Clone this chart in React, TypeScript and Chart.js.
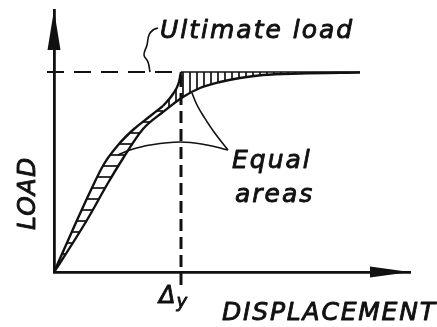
import React, { useEffect, useRef } from 'react';
import { Chart, registerables } from 'chart.js';

Chart.register(...registerables);

// ---- data (x: displacement units, y: load units) ----
const X_MAX = 356;
const Y_MAX = 262;
const ULTIMATE_LOAD = 200;
const DELTA_Y = 127;

const actualX = [0, 6, 33, 54, 68, 89, 109, 129, 146, 166, 186, 209, 246, 306];
const actualY = [0, 9, 52, 89, 112, 143, 160, 175, 184, 190, 194, 197, 198.5, 199.5];

const idealLowX = [0, 20, 36, 50, 65, 80, 95, 109];
const idealLowY = [0, 45, 80, 108, 128, 143, 155, 166];

const idealTopX = [109, 119, 125, 127];
const idealTopY = [166, 178, 190, 200];

const plateauX = [127, 306];
const plateauY = [200, 200];

const ultimateDashX = [-7, DELTA_Y];
const deltaLineY = [-13, ULTIMATE_LOAD];

const leaderUltX = [96, 94, 90, 93, 95, 99, 104];
const leaderUltY = [200, 210, 217, 227, 237, 242, 244];

const leaderEq1X = [174, 160, 150, 143, 138];
const leaderEq1Y = [122, 140, 155, 167, 179];

const leaderEq2X = [174, 153, 126, 96, 76, 64];
const leaderEq2Y = [122, 127, 130, 127, 122, 117];

const labelUltimate = 'Ultimate load';
const labelEqual1 = 'Equal';
const labelEqual2 = 'areas';
const labelX = 'DISPLACEMENT';
const labelY = 'LOAD';
const labelDelta = 'Δ';
const labelDeltaSub = 'y';

const pts = (xs: number[], ys: number[]) => xs.map((x, i) => ({ x, y: ys[i] }));

function makePattern(vertical: boolean, gap: number) {
  const c = document.createElement('canvas');
  c.width = gap;
  c.height = gap;
  const g = c.getContext('2d')!;
  g.strokeStyle = '#111';
  g.lineWidth = 1.7;
  g.beginPath();
  if (vertical) {
    g.moveTo(1, 0);
    g.lineTo(1, gap);
  } else {
    g.moveTo(0, 1);
    g.lineTo(gap, 1);
  }
  g.stroke();
  return g.createPattern(c, 'repeat')!;
}

const INK = '#111';

const decorPlugin = {
  id: 'decor',
  afterDraw(chart: any) {
    const { ctx, scales } = chart;
    const xs = scales.x;
    const ys = scales.y;
    const px = (v: number) => xs.getPixelForValue(v);
    const py = (v: number) => ys.getPixelForValue(v);
    ctx.save();
    ctx.fillStyle = INK;
    ctx.strokeStyle = INK;
    // arrow heads
    const ox = px(0);
    const oy = py(0);
    const top = py(Y_MAX);
    const right = px(X_MAX);
    ctx.beginPath();
    ctx.moveTo(ox, top);
    ctx.lineTo(ox - 6.5, top + 40);
    ctx.lineTo(ox + 6.5, top + 40);
    ctx.closePath();
    ctx.fill();
    ctx.beginPath();
    ctx.moveTo(right, oy);
    ctx.lineTo(right - 40, oy - 5.5);
    ctx.lineTo(right - 40, oy + 5.5);
    ctx.closePath();
    ctx.fill();

    // texts
    const font = (s: number) => `italic ${s}px "DejaVu Sans"`;
    ctx.lineWidth = 0.9;
    ctx.lineJoin = 'round';
    const txt = (t: string, x: number, y: number) => {
      ctx.fillText(t, x, y);
      ctx.strokeText(t, x, y);
    };
    ctx.textBaseline = 'alphabetic';
    ctx.textAlign = 'left';
    (ctx as any).letterSpacing = '2px';
    ctx.font = font(25);
    txt(labelUltimate, px(106), py(234));
    txt(labelEqual1, px(178), py(104));
    txt(labelEqual2, px(181), py(70));
    (ctx as any).letterSpacing = '1.8px';
    txt(labelX, px(168), py(-48));
    (ctx as any).letterSpacing = '1px';
    ctx.save();
    ctx.translate(px(-19), py(42));
    ctx.rotate(-Math.PI / 2);
    txt(labelY, 0, 0);
    ctx.restore();
    (ctx as any).letterSpacing = '0px';
    ctx.font = font(24);
    txt(labelDelta, px(105), py(-31));
    const dw = ctx.measureText(labelDelta).width;
    ctx.font = font(18);
    txt(labelDeltaSub, px(105) + dw + 1, py(-35));
    ctx.restore();
  },
};

export default function App() {
  const ref = useRef<HTMLCanvasElement | null>(null);
  useEffect(() => {
    if (!ref.current) return;
    const hatchH = makePattern(false, 11);
    const hatchV = makePattern(true, 7);
    const line = (data: any[], extra: any = {}) => ({
      data,
      borderColor: INK,
      borderWidth: 2.4,
      pointRadius: 0,
      fill: false,
      tension: 0,
      ...extra,
    });
    const chart = new Chart(ref.current, {
      type: 'line',
      data: {
        datasets: [
          line(pts(actualX, actualY), { cubicInterpolationMode: 'monotone' }),
          line(pts(idealLowX, idealLowY), {
            cubicInterpolationMode: 'monotone',
            fill: { target: 0 },
            backgroundColor: hatchH,
          }),
          line(pts(idealTopX, idealTopY), {
            cubicInterpolationMode: 'monotone',
            fill: { target: 0 },
            backgroundColor: hatchV,
          }),
          line(pts(plateauX, plateauY), {
            fill: { target: 0 },
            backgroundColor: hatchV,
            borderWidth: 1.6,
          }),
          line(pts(ultimateDashX, [ULTIMATE_LOAD, ULTIMATE_LOAD]), {
            borderDash: [17, 10],
            borderWidth: 2.2,
            clip: false,
          }),
          line(pts([DELTA_Y, DELTA_Y], deltaLineY), {
            borderDash: [12, 6],
            borderWidth: 3,
            clip: false,
          }),
          line(pts(leaderUltX, leaderUltY), { tension: 0.4, borderWidth: 1.6, clip: false }),
          line(pts(leaderEq1X, leaderEq1Y), { tension: 0.4, borderWidth: 1.6 }),
          line(pts(leaderEq2X, leaderEq2Y), { tension: 0.4, borderWidth: 1.6 }),
        ],
      },
      options: {
        responsive: false,
        animation: false,
        events: [],
        layout: { padding: { left: 54, top: 10, right: 27, bottom: 55 } },
        plugins: { legend: { display: false }, tooltip: { enabled: false } },
        scales: {
          x: {
            type: 'linear',
            min: 0,
            max: X_MAX,
            ticks: { display: false },
            grid: { display: false, drawTicks: false },
            border: { display: true, color: INK, width: 2.8 },
          },
          y: {
            type: 'linear',
            min: 0,
            max: Y_MAX,
            ticks: { display: false },
            grid: { display: false, drawTicks: false },
            border: { display: true, color: INK, width: 2.8 },
          },
        },
      },
      plugins: [decorPlugin],
    });
    return () => chart.destroy();
  }, []);
  return (
    <div style={{ position: 'absolute', left: 0, top: 0, width: 437, height: 327, background: '#fff' }}>
      <canvas ref={ref} width={437} height={327} />
    </div>
  );
}
